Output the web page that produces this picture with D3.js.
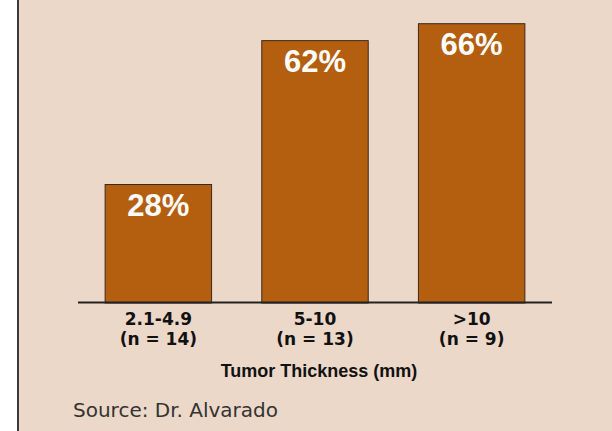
<!DOCTYPE html>
<html>
<head>
<meta charset="utf-8">
<script src="https://cdn.jsdelivr.net/npm/d3@7"></script>
<style>
  html, body { margin: 0; padding: 0; background: #ffffff; }
  svg { display: block; }
</style>
</head>
<body>
<script>
const categories = ["2.1-4.9", "5-10", ">10"];
const sampleSizes = ["(n = 14)", "(n = 13)", "(n = 9)"];
const values = [28, 62, 66];
const valueLabels = ["28%", "62%", "66%"];
const axisTitle = "Tumor Thickness (mm)";
const sourceText = "Source: Dr. Alvarado";

const W = 612, H = 431;
const svg = d3.select("body").append("svg").attr("width", W).attr("height", H);

// panel background
svg.append("rect").attr("x", 18).attr("y", 0).attr("width", W - 18).attr("height", H).attr("fill", "#ecd8c8");
svg.append("line").attr("x1", 18).attr("x2", 18).attr("y1", 0).attr("y2", H)
  .attr("stroke", "#3a3a3a").attr("stroke-width", 2);

const x = d3.scaleBand().domain(categories).range([78, 552]).paddingInner(0.314).paddingOuter(0.17);
const y = d3.scaleLinear().domain([0, 66]).range([302.5, 23.2]);

const bars = svg.append("g");
bars.selectAll("rect").data(values).join("rect")
  .attr("x", (d, i) => x(categories[i]) + 0.5)
  .attr("y", d => y(d) + 0.5)
  .attr("width", x.bandwidth() - 1)
  .attr("height", d => y(0) - y(d))
  .attr("fill", "#b45e10")
  .attr("stroke", "#3a2a1e")
  .attr("stroke-width", 1);

bars.selectAll("text").data(values).join("text")
  .attr("x", (d, i) => x(categories[i]) + x.bandwidth() / 2)
  .attr("y", d => y(d) + 31.5)
  .attr("text-anchor", "middle")
  .attr("font-family", "Liberation Sans, Arial, sans-serif")
  .attr("font-weight", "bold")
  .attr("font-size", 31)
  .attr("fill", "#ffffff")
  .text((d, i) => valueLabels[i]);

// baseline axis
const axis = d3.axisBottom(x).tickSize(0).tickPadding(0).tickFormat(() => "");
const ag = svg.append("g").attr("transform", `translate(0,${y(0)})`).call(axis);
ag.select(".domain").attr("d", "M78,0H552").attr("stroke", "#222").attr("stroke-width", 2);

const tick = ag.selectAll(".tick");
tick.select("text").remove();
tick.append("text")
  .attr("y", 22.5)
  .attr("text-anchor", "middle")
  .attr("font-family", "DejaVu Sans, sans-serif")
  .attr("font-weight", "bold")
  .attr("font-size", 17)
  .attr("fill", "#111")
  .text(d => d);
tick.append("text")
  .attr("y", 42.5)
  .attr("text-anchor", "middle")
  .attr("font-family", "DejaVu Sans, sans-serif")
  .attr("font-weight", "bold")
  .attr("font-size", 17)
  .attr("fill", "#111")
  .text(d => sampleSizes[categories.indexOf(d)]);

svg.append("text")
  .attr("x", 319).attr("y", 376.5)
  .attr("text-anchor", "middle")
  .attr("font-family", "Liberation Sans, Arial, sans-serif")
  .attr("font-weight", "bold")
  .attr("font-size", 18)
  .attr("fill", "#111")
  .text(axisTitle);

svg.append("text")
  .attr("x", 73).attr("y", 416.5)
  .attr("font-family", "DejaVu Sans, sans-serif")
  .attr("font-size", 20)
  .attr("fill", "#333")
  .text(sourceText);
</script>
</body>
</html>
